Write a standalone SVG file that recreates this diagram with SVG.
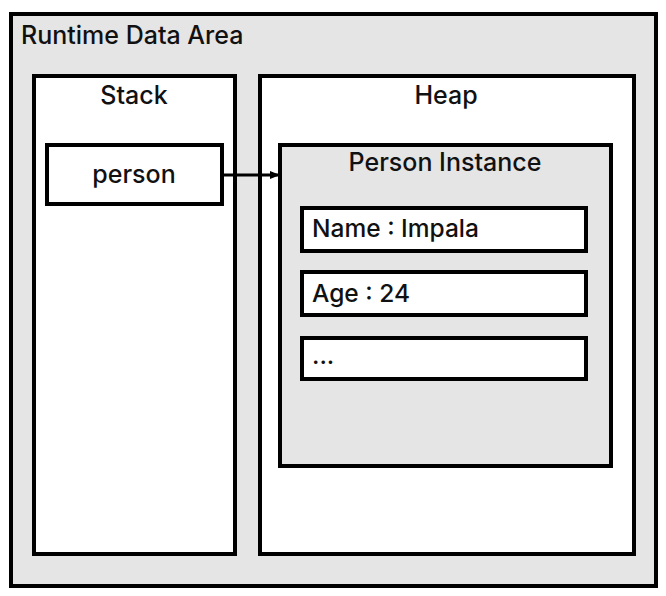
<svg xmlns="http://www.w3.org/2000/svg" width="666" height="596" viewBox="0 0 666 596">
<defs>
<style>
.box{stroke:#000;stroke-width:4}
.gray{fill:#e5e5e5}
.white{fill:#fff}
text{font-family:"Inter","Liberation Sans",sans-serif;font-weight:500;fill:#111}
.t22{font-size:25px}
.t21{font-size:24.5px}
</style>
<marker id="arr" viewBox="0 0 10 10" refX="9" refY="5" markerWidth="10" markerHeight="10" markerUnits="userSpaceOnUse" orient="auto">
<path d="M0,1 L10,5 L0,9 Z" fill="#000"/>
</marker>
</defs>
<rect width="666" height="596" fill="#fff"/>
<g id="runtime-data-area">
<rect class="box gray" x="11" y="14" width="645" height="572"/>
<text class="t22" x="21" y="44">Runtime Data Area</text>
</g>
<g id="stack">
<rect class="box white" x="34" y="76" width="201" height="478"/>
<text class="t22" x="134" y="104" text-anchor="middle">Stack</text>
</g>
<g id="heap">
<rect class="box white" x="260" y="76" width="374" height="478"/>
<text class="t22" x="446" y="104" text-anchor="middle">Heap</text>
</g>
<g id="person">
<rect class="box white" x="47" y="145" width="175" height="59"/>
<text class="t22" x="134" y="183" text-anchor="middle">person</text>
</g>
<g id="person-instance">
<rect class="box gray" x="280" y="145" width="331" height="321"/>
<text class="t22" x="445" y="171" text-anchor="middle">Person Instance</text>
</g>
<g id="name">
<rect class="box white" x="302" y="208" width="284" height="43"/>
<text class="t21" x="312" y="237">Name : Impala</text>
</g>
<g id="age">
<rect class="box white" x="302" y="272" width="284" height="43"/>
<text class="t21" x="312" y="302">Age : 24</text>
</g>
<g id="more">
<rect class="box white" x="302" y="338" width="284" height="41"/>
<text class="t21" x="312" y="364">...</text>
</g>
<g id="connectors">
<line x1="222" y1="175" x2="279" y2="175" stroke="#000" stroke-width="3" marker-end="url(#arr)"/>
</g>
</svg>
